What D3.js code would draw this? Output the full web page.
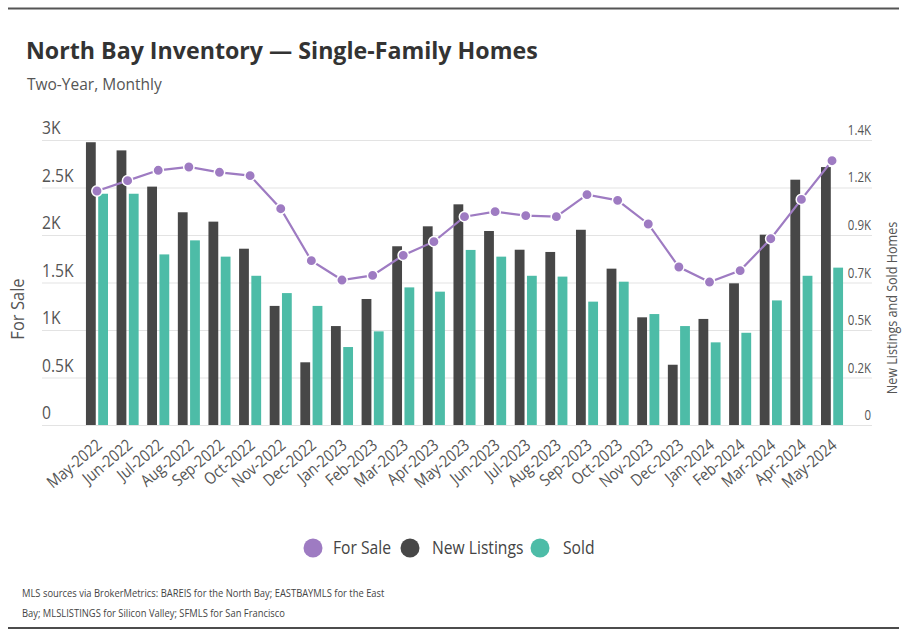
<!DOCTYPE html>
<html><head><meta charset="utf-8">
<script src="https://cdn.jsdelivr.net/npm/d3@7"></script>
<style>
body{margin:0;background:#fff;}
svg{display:block;}
text{font-family:'Open Sans','Noto Sans',sans-serif;}
</style></head>
<body>
<svg id="c" width="907" height="632"></svg>
<script>
const months = ["May-2022","Jun-2022","Jul-2022","Aug-2022","Sep-2022","Oct-2022","Nov-2022","Dec-2022","Jan-2023","Feb-2023","Mar-2023","Apr-2023","May-2023","Jun-2023","Jul-2023","Aug-2023","Sep-2023","Oct-2023","Nov-2023","Dec-2023","Jan-2024","Feb-2024","Mar-2024","Apr-2024","May-2024"];
const forSale = [2463,2572,2681,2716,2660,2625,2277,1730,1526,1575,1786,1930,2193,2246,2204,2193,2425,2365,2116,1663,1505,1625,1961,2375,2782];
const newListings = [1389,1349,1171,1045,999,866,585,308,486,619,878,976,1084,953,861,850,959,768,529,296,521,696,935,1205,1267];
const sold = [1136,1136,838,907,827,733,648,585,383,460,676,655,860,827,733,729,606,704,545,486,406,453,612,733,773];
const leftTicks = [0,500,1000,1500,2000,2500,3000];
const leftTickLabels = ["0","0.5K","1K","1.5K","2K","2.5K","3K"];
const rightTicks = [0,233.33,466.67,700,933.33,1166.67,1400];
const rightTickLabels = ["0","0.2K","0.5K","0.7K","0.9K","1.2K","1.4K"];
const seriesNames = ["For Sale","New Listings","Sold"];
const colors = ["#9e7bc2","#474747","#4dbca7"];

(function(){
const svg = d3.select("#c");

svg.append("line").attr("x1",8).attr("x2",899).attr("y1",8.5).attr("y2",8.5).attr("stroke","#555").attr("stroke-width",2);
svg.append("line").attr("x1",8).attr("x2",899).attr("y1",628).attr("y2",628).attr("stroke","#111").attr("stroke-width",1.5);

svg.append("text").attr("x",26).attr("y",59).attr("font-weight",700).attr("font-size",23.2)
  .attr("fill","#333").text("North Bay Inventory — Single-Family Homes");
svg.append("text").attr("x",27).attr("y",90).attr("font-size",15.5)
  .attr("fill","#555").text("Two-Year, Monthly");

const pTop = 140, pBottom = 425, gl = 42, gr = 872;
const x = d3.scaleBand().domain(months).range([83.5,845.5]).paddingInner(0.28).paddingOuter(0.08);
const x1 = d3.scaleBand().domain(["n","s"]).range([0,x.bandwidth()]).paddingInner(0.2);
const yL = d3.scaleLinear().domain([0,3000]).range([pBottom,pTop]);
const yR = d3.scaleLinear().domain([0,1400]).range([pBottom,pTop]);

svg.append("g").selectAll("line").data(leftTicks).join("line")
  .attr("x1",gl).attr("x2",gr).attr("y1",d=>yL(d)+0.5).attr("y2",d=>yL(d)+0.5)
  .attr("stroke","#e3e3e3").attr("stroke-width",1.2);

svg.append("g").selectAll("text").data(leftTicks).join("text")
  .attr("transform",d=>`translate(${gl},${yL(d)-6}) scale(0.87,1)`).attr("font-size",18).attr("fill","#555")
  .text((d,i)=>leftTickLabels[i]);
svg.append("g").selectAll("text").data(rightTicks).join("text")
  .attr("transform",d=>`translate(${gr-1},${yR(d)-5}) scale(0.82,1)`).attr("text-anchor","end").attr("font-size",14).attr("fill","#555")
  .text((d,i)=>rightTickLabels[i]);

svg.append("text").attr("transform","translate(24,309) rotate(-90) scale(0.92,1)").attr("text-anchor","middle")
  .attr("font-size",18).attr("fill","#555").text("For Sale");
svg.append("text").attr("transform","translate(897,308) rotate(-90) scale(0.9,1)").attr("text-anchor","middle")
  .attr("font-size",14).attr("fill","#555").text("New Listings and Sold Homes");

const g = svg.append("g");
g.selectAll("rect.nl").data(newListings).join("rect").attr("class","nl")
  .attr("x",(d,i)=>x(months[i])+x1("n")).attr("width",x1.bandwidth())
  .attr("y",d=>yR(d)).attr("height",d=>pBottom-yR(d)).attr("fill",colors[1]);
g.selectAll("rect.sd").data(sold).join("rect").attr("class","sd")
  .attr("x",(d,i)=>x(months[i])+x1("s")).attr("width",x1.bandwidth())
  .attr("y",d=>yR(d)).attr("height",d=>pBottom-yR(d)).attr("fill",colors[2]);

const cx = (i)=>x(months[i])+x.bandwidth()/2;
const line = d3.line().x((d,i)=>cx(i)).y(d=>yL(d));
svg.append("path").datum(forSale).attr("d",line).attr("fill","none").attr("stroke",colors[0]).attr("stroke-width",2.2);
svg.append("g").selectAll("circle").data(forSale).join("circle")
  .attr("cx",(d,i)=>cx(i)).attr("cy",d=>yL(d)).attr("r",5.2)
  .attr("fill",colors[0]).attr("stroke","#fff").attr("stroke-width",1.5);

svg.append("g").selectAll("text").data(months).join("text")
  .attr("transform",(d,i)=>`translate(${cx(i)+6},${447}) rotate(-40) scale(0.87,1)`)
  .attr("text-anchor","end").attr("font-size",16.5).attr("fill","#555").text(d=>d);

const leg = [{n:seriesNames[0],c:colors[0],x:313,tx:333},{n:seriesNames[1],c:colors[1],x:410,tx:432},{n:seriesNames[2],c:colors[2],x:540,tx:563}];
const lg = svg.append("g").selectAll("g").data(leg).join("g");
lg.append("circle").attr("cx",d=>d.x).attr("cy",548).attr("r",9.5).attr("fill",d=>d.c);
lg.append("text").attr("transform",d=>`translate(${d.tx},554) scale(0.87,1)`).attr("font-size",18).attr("fill","#444").text(d=>d.n);

svg.append("text").attr("transform","translate(22,597) scale(0.92,1)").attr("font-size",10.2).attr("fill","#444")
  .text("MLS sources via BrokerMetrics: BAREIS for the North Bay; EASTBAYMLS for the East");
svg.append("text").attr("transform","translate(22,617) scale(0.92,1)").attr("font-size",10.2).attr("fill","#444")
  .text("Bay; MLSLISTINGS for Silicon Valley; SFMLS for San Francisco");
})();
</script>
</body></html>
